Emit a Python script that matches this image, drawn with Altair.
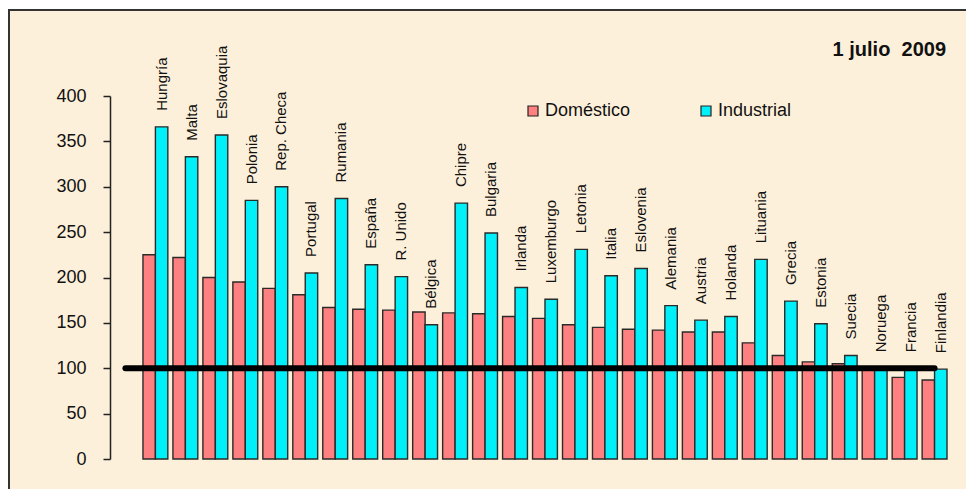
import altair as alt
import pandas as pd

paises = ["Hungría", "Malta", "Eslovaquia", "Polonia", "Rep. Checa", "Portugal",
          "Rumania", "España", "R. Unido", "Bélgica", "Chipre", "Bulgaria",
          "Irlanda", "Luxemburgo", "Letonia", "Italia", "Eslovenia", "Alemania",
          "Austria", "Holanda", "Lituania", "Grecia", "Estonia", "Suecia",
          "Noruega", "Francia", "Finlandia"]
domestico = [225, 222, 200, 195, 188, 181, 167, 165, 164, 162, 161, 160, 157, 155,
             148, 145, 143, 142, 140, 140, 128, 114, 107, 105, 100, 90, 87]
industrial = [366, 333, 357, 285, 300, 205, 287, 214, 201, 148, 282, 249, 189, 176,
              231, 202, 210, 169, 153, 157, 220, 174, 149, 114, 100, 100, 99]
series = ["Doméstico", "Industrial"]
colores = ["#FF8080", "#00F0FA"]
y_ticks = [0, 50, 100, 150, 200, 250, 300, 350, 400]
linea_pais = [" ", "Finlandia"]
linea_valor = [100, 100]
titulo = "1 julio \u00a02009"

rows = []
for p, d, i in zip(paises, domestico, industrial):
    rows.append({"pais": p, "serie": series[0], "valor": d})
    rows.append({"pais": p, "serie": series[1], "valor": i})
df = pd.DataFrame(rows)
df_line = pd.DataFrame({"pais": linea_pais, "valor": linea_valor})

FONT = "Liberation Sans"
x_dom = [" "] + paises
xscale = alt.Scale(domain=x_dom, paddingInner=0.17, paddingOuter=0.1)
yscale = alt.Scale(domain=[0, 400], nice=False)

frame = alt.Chart(pd.DataFrame({"k": [0]})).mark_rect(
    fill="#FDF0DA", stroke="#333333", strokeWidth=2
).encode(x=alt.value(-101), x2=alt.value(900), y=alt.value(-86), y2=alt.value(500))

bars = alt.Chart(df).mark_bar(stroke="#2a2a2a", strokeWidth=1.4).encode(
    x=alt.X("pais:N", scale=xscale, sort=x_dom, axis=None),
    xOffset=alt.XOffset("serie:N", scale=alt.Scale(domain=series, paddingInner=0)),
    y=alt.Y("valor:Q", scale=yscale,
            axis=alt.Axis(values=y_ticks, title=None, grid=False, tickSize=7,
                          labelPadding=17, labelFont=FONT, labelFontSize=18,
                          labelColor="#111111", domainColor="#222222", domainWidth=1.5,
                          tickColor="#222222", tickWidth=1.5, zindex=1)),
    color=alt.Color("serie:N", scale=alt.Scale(domain=series, range=colores),
                    legend=alt.Legend(orient="none", legendX=414, legendY=6,
                                      direction="horizontal", title=None,
                                      symbolType="square", symbolSize=100,
                                      symbolStrokeColor="#222222", symbolStrokeWidth=1.2,
                                      labelFont=FONT, labelFontSize=18,
                                      labelColor="#111111", labelOffset=3,
                                      columnPadding=66, padding=0, zindex=1)),
)

labels = alt.Chart(df).transform_filter(
    alt.datum.serie == "Industrial"
).mark_text(angle=270, align="left", baseline="middle", dx=16,
            font=FONT, fontSize=15, color="#111111").encode(
    x=alt.X("pais:N", scale=xscale, sort=x_dom),
    xOffset=alt.XOffset("serie:N", scale=alt.Scale(domain=series, paddingInner=0)),
    y=alt.Y("valor:Q", scale=yscale),
    text="pais:N",
)

line = alt.Chart(df_line).mark_line(color="black", strokeWidth=6, strokeCap="round").encode(
    x=alt.X("pais:N", scale=xscale, sort=x_dom),
    y=alt.Y("valor:Q", scale=yscale),
)

chart = alt.layer(frame, bars, labels, line).properties(
    width=840, height=363,
    padding={"left": 102, "top": 88, "right": 16, "bottom": 30},
    autosize=alt.AutoSizeParams(type="none"),
    background="white",
    title=alt.Title(titulo, anchor="end", frame="group", fontSize=20, fontWeight="bold",
                    font=FONT, color="#111111", dx=-4, dy=55, zindex=1),
).configure_view(stroke=None)

chart.save("out.html", embed_options={"renderer": "svg", "actions": False})
